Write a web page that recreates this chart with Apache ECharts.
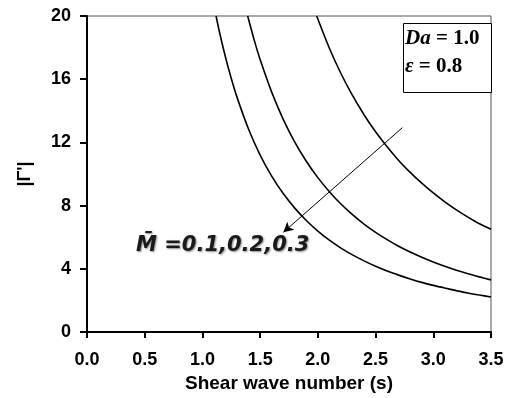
<!DOCTYPE html>
<html>
<head>
<meta charset="utf-8">
<script src="https://cdn.jsdelivr.net/npm/echarts@6/dist/echarts.min.js"></script>
<style>
  html, body { margin: 0; padding: 0; background: #fff; }
  #chart { width: 509px; height: 398px; }
</style>
</head>
<body>
<div id="chart"></div>
<script>
// Shear wave number (s) against |Γ'| for three magnetic parameters
const xTicks = [0.0, 0.5, 1.0, 1.5, 2.0, 2.5, 3.0, 3.5];
const yTicks = [0, 4, 8, 12, 16, 20];

// M = 0.1 (upper curve)
const sM1 = [1.99, 2.1, 2.2, 2.3, 2.4, 2.5, 2.6, 2.7, 2.8, 2.9, 3.0, 3.1, 3.2, 3.3, 3.4, 3.5];
const gM1 = [20, 17.96, 16.36, 14.97, 13.75, 12.67, 11.72, 10.86, 10.1, 9.42, 8.8, 8.24, 7.73, 7.27, 6.85, 6.5];

// M = 0.2 (middle curve)
const sM2 = [1.392, 1.45, 1.5, 1.6, 1.7, 1.8, 1.9, 2.0, 2.1, 2.2, 2.3, 2.4, 2.5, 2.6, 2.7, 2.8, 2.9, 3.0, 3.1, 3.2, 3.3, 3.4, 3.5];
const gM2 = [20, 18.44, 17.24, 15.18, 13.46, 12.02, 10.81, 9.77, 8.88, 8.1, 7.43, 6.83, 6.31, 5.85, 5.43, 5.06, 4.73, 4.43, 4.16, 3.91, 3.69, 3.49, 3.3];

// M = 0.3 (lower curve)
const sM3 = [1.118, 1.15, 1.2, 1.25, 1.3, 1.4, 1.5, 1.6, 1.7, 1.8, 1.9, 2.0, 2.1, 2.2, 2.3, 2.4, 2.5, 2.6, 2.7, 2.8, 2.9, 3.0, 3.1, 3.2, 3.3, 3.4, 3.5];
const gM3 = [20, 18.91, 17.39, 16.04, 14.85, 12.83, 11.2, 9.87, 8.76, 7.84, 7.06, 6.39, 5.81, 5.31, 4.88, 4.5, 4.16, 3.86, 3.6, 3.36, 3.14, 2.95, 2.78, 2.62, 2.47, 2.34, 2.22];

// Arrow across the curves (tail, head) in data units
const arrowTail = [2.732, 12.93];
const arrowHead = [1.701, 6.31];

const pairs = (xs, ys) => xs.map((x, i) => [x, ys[i]]);

const chart = echarts.init(document.getElementById('chart'), null, { renderer: 'canvas' });

const lineStyle = { color: '#000', width: 1.6 };
const curve = (name, xs, ys) => ({
  name, type: 'line', smooth: 0.3, symbol: 'none',
  data: pairs(xs, ys), lineStyle
});

const m3 = curve('M=0.3', sM3, gM3);
m3.markLine = {
  silent: true,
  symbol: ['none', 'arrow'],
  symbolSize: [8, 10],
  label: { show: false },
  lineStyle: { color: '#000', width: 1, type: 'solid' },
  data: [[{ coord: arrowTail }, { coord: arrowHead }]]
};

chart.setOption({
  animation: false,
  backgroundColor: '#fff',
  grid: {
    left: 87, top: 16, right: 18, bottom: 64.5,
    show: true, borderColor: '#555', borderWidth: 1, backgroundColor: 'transparent'
  },
  xAxis: {
    type: 'value',
    min: xTicks[0], max: xTicks[xTicks.length - 1], interval: 0.5,
    name: 'Shear wave number (s)',
    nameLocation: 'middle', nameGap: 42,
    nameTextStyle: { fontFamily: 'Liberation Sans', fontWeight: 'bold', fontSize: 19, color: '#000' },
    axisLine: { show: true, onZero: false, lineStyle: { color: '#000', width: 2 } },
    axisTick: { show: true, inside: false, length: 6, lineStyle: { color: '#000', width: 2 } },
    axisLabel: {
      margin: 19, fontFamily: 'Liberation Sans', fontWeight: 'bold', fontSize: 18, color: '#000',
      formatter: v => v.toFixed(1)
    },
    splitLine: { show: false }
  },
  yAxis: {
    type: 'value',
    min: yTicks[0], max: yTicks[yTicks.length - 1], interval: 4,
    name: "|Γ'|",
    nameLocation: 'middle', nameGap: 53, nameRotate: 90,
    nameTextStyle: { fontFamily: 'Liberation Sans', fontWeight: 'bold', fontSize: 18, color: '#000' },
    axisLine: { show: true, onZero: false, lineStyle: { color: '#000', width: 2 } },
    axisTick: { show: true, inside: false, length: 7, lineStyle: { color: '#000', width: 2 } },
    axisLabel: { margin: 16, fontFamily: 'Liberation Sans', fontWeight: 'bold', fontSize: 18, color: '#000' },
    splitLine: { show: false }
  },
  series: [
    curve('M=0.1', sM1, gM1),
    curve('M=0.2', sM2, gM2),
    m3
  ],
  graphic: [
    {
      type: 'rect', left: 403, top: 23, z: 10,
      shape: { width: 88, height: 69 },
      style: { fill: '#fff', stroke: '#000', lineWidth: 1 }
    },
    {
      type: 'text', left: 405, top: 28, z: 11,
      style: {
        text: '{i|Da}{n| = 1.0}\n{i|ε}{n| = 0.8}',
        rich: {
          i: { fontFamily: 'Liberation Serif', fontStyle: 'italic', fontWeight: 'bold', fontSize: 21, lineHeight: 28, fill: '#000' },
          n: { fontFamily: 'Liberation Serif', fontWeight: 'bold', fontSize: 21, lineHeight: 28, fill: '#000' }
        }
      }
    },
    {
      type: 'text', left: 136, top: 235, z: 11,
      style: {
        text: 'M\u0304 =0.1,0.2,0.3',
        fontFamily: 'DejaVu Sans', fontStyle: 'italic', fontWeight: 'bold', fontSize: 21,
        fill: '#1a1a1a',
        textShadowColor: 'rgba(0,0,0,0.45)', textShadowBlur: 2, textShadowOffsetX: 1, textShadowOffsetY: 1
      }
    }
  ]
});
</script>
</body>
</html>
